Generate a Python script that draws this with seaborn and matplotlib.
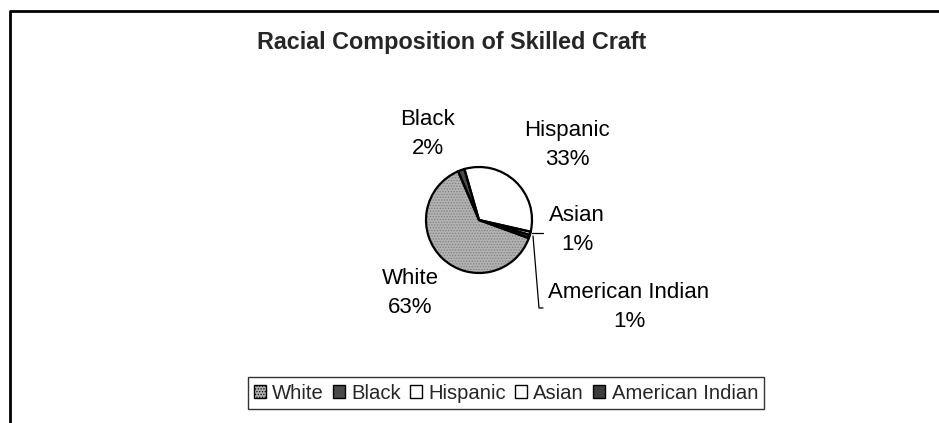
import matplotlib
matplotlib.use("Agg")
import matplotlib.pyplot as plt
import seaborn as sns
from matplotlib.patches import Patch

categories = ["White", "Black", "Hispanic", "Asian", "American Indian"]
values = [63, 2, 33, 1, 1]
pct_labels = ["63%", "2%", "33%", "1%", "1%"]
title = "Racial Composition of Skilled Craft"

sns.set_theme(style="white")
plt.rcParams["font.family"] = ["Liberation Sans", "DejaVu Sans"]
plt.rcParams["hatch.linewidth"] = 0.6

colors = ["#b2b2b2", "#4a4a4a", "#ffffff", "#ffffff", "#3e3e3e"]
hatches = ["......", "", "", "", ""]

W, H = 939, 423
fig = plt.figure(figsize=(W / 100, H / 100), dpi=100)
ax = fig.add_axes([0, 0, 1, 1])

cx, cy, r = 479, H - 220, 53
# fill layer (stippled gray for White)
fill, _ = ax.pie(values, colors=colors, startangle=-20, counterclock=False,
                 center=(cx, cy), radius=r, frame=True, hatch=hatches,
                 wedgeprops=dict(edgecolor="#808080", linewidth=0))
# outline layer
ax.pie(values, colors=["none"] * len(values), startangle=-20, counterclock=False,
       center=(cx, cy), radius=r, frame=True,
       wedgeprops=dict(edgecolor="black", linewidth=1.6))
ax.set_xlim(0, W)
ax.set_ylim(0, H)
ax.set_aspect("equal")
ax.axis("off")

fs = 16
lab_pos = {
    "White": (410, 293),
    "Black": (428, 134),
    "Hispanic": (567, 145),
    "Asian": (577, 230),
    "American Indian": (629, 307),
}
for cat, p in zip(categories, pct_labels):
    x, y = lab_pos[cat]
    ax.text(x, H - y, f"{cat}\n{p}", ha="center", va="center", fontsize=fs,
            linespacing=1.55, color="black")

# leader lines
ax.plot([532, 543], [H - 233, H - 233], color="black", lw=0.9)
ax.plot([533, 539, 543], [H - 236, H - 308, H - 308], color="black", lw=0.9)

fig.text(452 / W, 1 - 42 / H, title, ha="center", va="center",
         fontsize=16.8, fontweight="bold")

# outer frame
ax.plot([10, 10, W], [0, H - 11, H - 11], color="black", lw=2, clip_on=False)

handles = [Patch(facecolor=c, edgecolor="black", linewidth=1, hatch=h or None)
           for c, h in zip(colors, hatches)]
leg = fig.legend(handles, categories, loc="center", bbox_to_anchor=(506 / W, 1 - 393 / H),
                 ncol=5, frameon=True, fancybox=False, fontsize=14.6,
                 handlelength=0.6, handleheight=0.6, handletextpad=0.3,
                 columnspacing=0.45, borderpad=0.3, edgecolor="black")
leg.get_frame().set_linewidth(1.0)

fig.savefig("out.png", dpi=100, facecolor="white")
